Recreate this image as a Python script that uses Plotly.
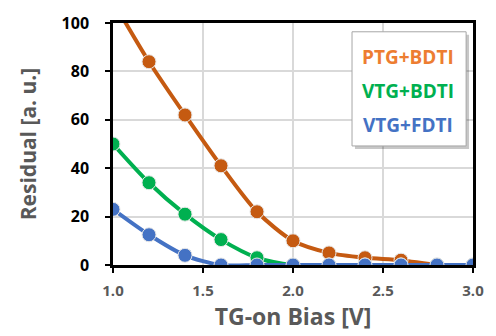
import plotly.graph_objects as go

x_vals = [1.0, 1.2, 1.4, 1.6, 1.8, 2.0, 2.2, 2.4, 2.6, 2.8, 3.0]
ptg_bdti = [109, 84, 62, 41, 22, 10, 5, 3, 2, 0, 0]
vtg_bdti = [50, 34, 21, 10.5, 3, 0, 0, 0, 0, 0, 0]
vtg_fdti = [23, 12.5, 4, 0, 0, 0, 0, 0, 0, 0, 0]

series = [
    ("PTG+BDTI", ptg_bdti, "#C55A11", "#ED7D31"),
    ("VTG+BDTI", vtg_bdti, "#00B050", "#00B050"),
    ("VTG+FDTI", vtg_fdti, "#4472C4", "#4472C4"),
]

fig = go.Figure()
for name, ys, col, _ in series:
    fig.add_trace(go.Scatter(
        x=x_vals, y=ys, name=name, mode="lines+markers",
        line=dict(color=col, width=4, shape="spline", smoothing=0.8),
        marker=dict(size=14, color=col, line=dict(color="#E8E8E8", width=1)),
        showlegend=False,
    ))

L, R, T, B = 113, 17, 17, 71
W, H = 496, 336
pw, ph = W - L - R, H - T - B

def px(xp):
    return (xp - L) / pw

def py(yp):
    return (H - B - yp) / ph

fig.add_shape(type="rect", xref="paper", yref="paper",
              x0=px(359), x1=px(475), y0=py(146), y1=py(29),
              fillcolor="rgba(0,0,0,0.22)", line=dict(width=0), layer="above")
fig.add_shape(type="rect", xref="paper", yref="paper",
              x0=px(356), x1=px(472), y0=py(143), y1=py(26),
              fillcolor="white", line=dict(color="#A6A6A6", width=1), layer="above")
for i, (name, ys, col, tcol) in enumerate(series):
    fig.add_annotation(xref="paper", yref="paper", x=px(413), y=py(52 + 35 * i),
                       xanchor="center", yanchor="middle",
                       text=f"<b>{name}</b>", showarrow=False,
                       font=dict(family="Open Sans", size=19, color=tcol))

fig.update_layout(
    width=W, height=H, margin=dict(l=L, r=R, t=T, b=B),
    plot_bgcolor="white", paper_bgcolor="white",
    font=dict(family="Open Sans"),
)
fig.update_xaxes(
    range=[1.0, 3.0], tickvals=[1.0, 1.5, 2.0, 2.5, 3.0],
    ticktext=["<b>1.0</b>", "<b>1.5</b>", "<b>2.0</b>", "<b>2.5</b>", "<b>3.0</b>"],
    tickfont=dict(size=15, color="#595959"), ticklabelstandoff=5,
    showgrid=True, gridcolor="#D9D9D9", gridwidth=1.5,
    showline=True, linecolor="black", linewidth=2.5, mirror=True,
    ticks="outside", ticklen=5, tickcolor="black", tickwidth=2,
    title=dict(text="<b>TG-on Bias [V]</b>", font=dict(size=23, color="#595959"), standoff=6),
    zeroline=False,
)
fig.update_yaxes(
    range=[0, 100], tickvals=[0, 20, 40, 60, 80, 100],
    ticktext=["<b>0</b>", "<b>20</b>", "<b>40</b>", "<b>60</b>", "<b>80</b>", "<b>100</b>"],
    tickfont=dict(size=16, color="black"), ticklabelstandoff=13,
    showgrid=True, gridcolor="#D9D9D9", gridwidth=1.5,
    showline=True, linecolor="black", linewidth=2.5, mirror=True,
    ticks="outside", ticklen=5, tickcolor="black", tickwidth=2,
    title=dict(text="<b>Residual [a. u.]</b>", font=dict(size=21, color="#595959"), standoff=20),
    zeroline=False,
)

fig.write_html("out.html")
